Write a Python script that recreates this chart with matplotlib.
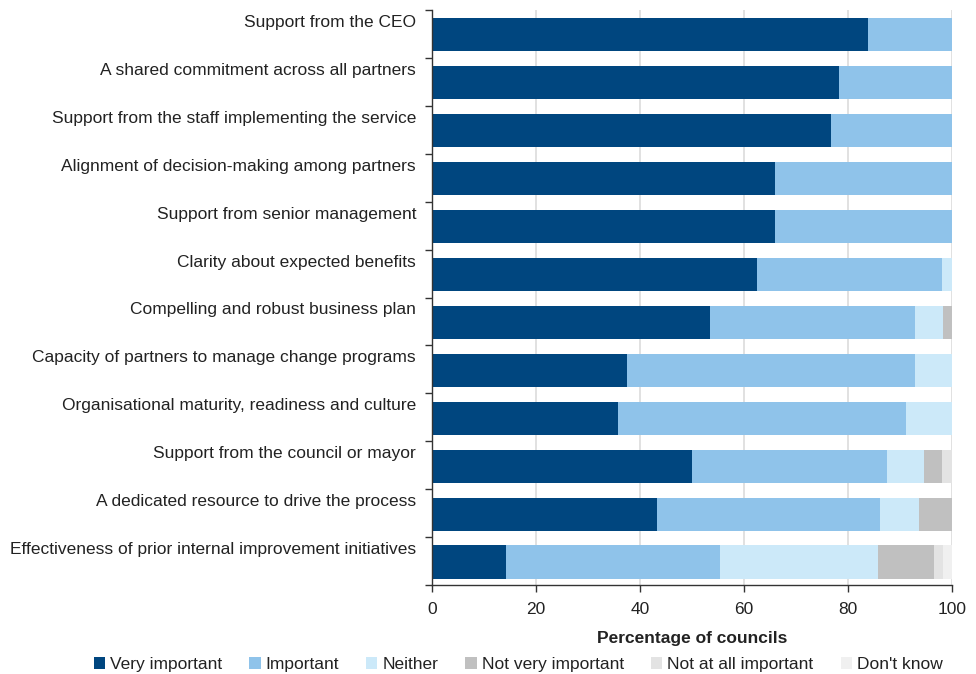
import numpy as np
import matplotlib.pyplot as plt
from matplotlib.transforms import ScaledTranslation

plt.rcParams['font.family'] = ['Liberation Sans', 'DejaVu Sans']

factors = [
    "Support from the CEO",
    "A shared commitment across all partners",
    "Support from the staff implementing the service",
    "Alignment of decision-making among partners",
    "Support from senior management",
    "Clarity about expected benefits",
    "Compelling and robust business plan",
    "Capacity of partners to manage change programs",
    "Organisational maturity, readiness and culture",
    "Support from the council or mayor",
    "A dedicated resource to drive the process",
    "Effectiveness of prior internal improvement initiatives",
]

very_important = [83.8, 78.3, 76.7, 66.0, 66.0, 62.5, 53.5, 37.5, 35.7, 50.0, 43.3, 14.3]
important = [16.2, 21.7, 23.3, 34.0, 34.0, 35.6, 39.3, 55.4, 55.5, 37.5, 42.9, 41.1]
neither = [0, 0, 0, 0, 0, 1.9, 5.4, 7.1, 8.8, 7.1, 7.5, 30.4]
not_very = [0, 0, 0, 0, 0, 0, 1.8, 0, 0, 3.4, 6.3, 10.7]
not_at_all = [0, 0, 0, 0, 0, 0, 0, 0, 0, 2.0, 0, 1.8]
dont_know = [0, 0, 0, 0, 0, 0, 0, 0, 0, 0, 0, 1.7]

series = [
    ("Very important", very_important, "#00467f"),
    ("Important", important, "#8fc3ea"),
    ("Neither", neither, "#cce9f9"),
    ("Not very important", not_very, "#c0c0c0"),
    ("Not at all important", not_at_all, "#e3e3e3"),
    ("Don't know", dont_know, "#f0f0f0"),
]

FS = 12.5

fig = plt.figure(figsize=(9.76, 6.74), dpi=100)
ax = fig.add_axes([432 / 976, 1 - 585 / 674, 520 / 976, 575 / 674])

y = np.arange(len(factors))
left = np.zeros(len(factors))
for name, vals, col in series:
    vals = np.array(vals)
    ax.barh(y + 0.02, vals, left=left, height=0.69, color=col, label=name, zorder=2)
    left += vals

ax.set_xlim(0, 100)
ax.set_ylim(len(factors) - 0.5, -0.5)
ax.set_xticks(np.arange(0, 101, 20))
ax.set_yticks(y)
ax.set_yticklabels(factors, fontsize=FS, color="#222222")
ax.set_yticks(np.arange(-0.5, len(factors), 1), minor=True)
ax.tick_params(axis="y", which="major", length=0, pad=11.5)
ax.tick_params(axis="y", which="minor", length=5, width=1, color="#333333")
ax.tick_params(axis="x", length=5, width=1, color="#333333", labelsize=FS,
               labelcolor="#222222", pad=7)

# category names sit level with the top of each bar
shift = ScaledTranslation(0, 13 / 100, fig.dpi_scale_trans)
for lab in ax.get_yticklabels():
    lab.set_transform(lab.get_transform() + shift)

ax.xaxis.grid(True, color="#dcdcdc", linewidth=1.2, zorder=0)
ax.set_axisbelow(True)
for s in ["top", "right"]:
    ax.spines[s].set_visible(False)
for s in ["left", "bottom"]:
    ax.spines[s].set_color("#333333")
    ax.spines[s].set_linewidth(1)

ax.set_xlabel("Percentage of councils", fontsize=FS, fontweight="bold",
              color="#222222", labelpad=10)

leg = fig.legend(loc="lower center", bbox_to_anchor=(0.531, -0.02), ncol=6,
                 frameon=False, fontsize=FS, handlelength=0.65, handleheight=0.65,
                 handletextpad=0.3, columnspacing=1.55)
for t in leg.get_texts():
    t.set_color("#222222")

fig.savefig("out.png", dpi=100)
